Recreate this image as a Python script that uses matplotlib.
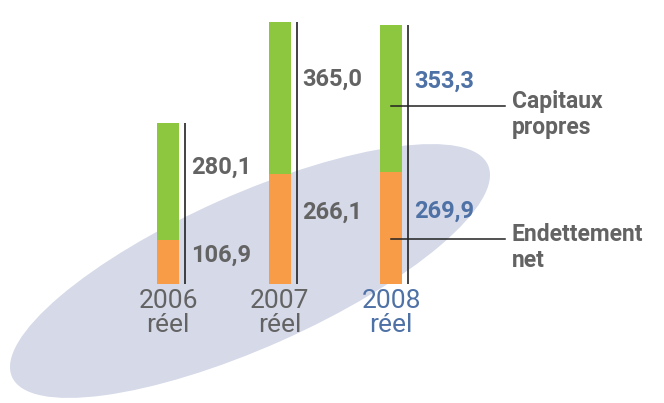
import matplotlib.pyplot as plt
from matplotlib.patches import Ellipse

years = ['2006', '2007', '2008']
sub_label = 'réel'
endettement = [106.9, 266.1, 269.9]
capitaux = [280.1, 365.0, 353.3]
series_names = ['Capitaux\npropres', 'Endettement\nnet']

green = '#8dc63f'
orange = '#f89c47'
grey = '#636363'
blue = '#4e71a6'
text_colors = [grey, grey, blue]

plt.rcParams['font.family'] = ['Roboto', 'DejaVu Sans']


def fmt(v):
    return f'{v:.1f}'.replace('.', ',')


fig = plt.figure(figsize=(6.64, 4.03), dpi=100)

# background ellipse, drawn in pixel units
bg = fig.add_axes([0, 0, 1, 1])
bg.set_xlim(0, 664)
bg.set_ylim(0, 403)
bg.axis('off')
bg.add_patch(Ellipse((250, 132), 521, 153, angle=24, color='#d5d9e8', lw=0))

ax = fig.add_axes([0, 0, 1, 1])
ax.patch.set_alpha(0)
ax.axis('off')
ax.set_xlim(-1.507, 4.448)
ax.set_ylim(-286.7, 684.3)

x = list(range(len(years)))
totals = [e + c for e, c in zip(endettement, capitaux)]
ax.bar(x, endettement, width=0.197, color=orange, zorder=2)
ax.bar(x, capitaux, bottom=endettement, width=0.197, color=green, zorder=2)
ax.vlines([i + 0.155 for i in x], 0, totals, color='#222222', lw=1.2, zorder=2)

for i in x:
    c = text_colors[i]
    ax.annotate(fmt(endettement[i]), (i + 0.155, 0.65 * endettement[i]),
                xytext=(4, 0), textcoords='offset points', va='center',
                ha='left', fontsize=17, fontweight='bold', color=c)
    ax.annotate(fmt(capitaux[i]), (i + 0.155, endettement[i] + 0.62 * capitaux[i]),
                xytext=(4, 0), textcoords='offset points', va='center',
                ha='left', fontsize=17, fontweight='bold', color=c)
    ax.annotate(years[i], (i, 0), xytext=(0, -12.5), textcoords='offset points',
                ha='center', va='center', fontsize=19, color=c)
    ax.annotate(sub_label, (i, 0), xytext=(0, -29.5), textcoords='offset points',
                ha='center', va='center', fontsize=19, color=c)

# legend callouts on the last bar
last = len(years) - 1
leg_y = [endettement[last] + 0.45 * capitaux[last], 0.4 * endettement[last]]
for name, y in zip(series_names, leg_y):
    ax.plot([last, last + 1.022], [y, y], color='#222222', lw=1.1, zorder=3)
    ax.annotate(name, (last + 1.022, y), xytext=(5, -6), textcoords='offset points',
                ha='left', va='center', fontsize=16.5, fontweight='bold',
                color=grey, linespacing=1.15)

fig.savefig('out.png', dpi=100)
